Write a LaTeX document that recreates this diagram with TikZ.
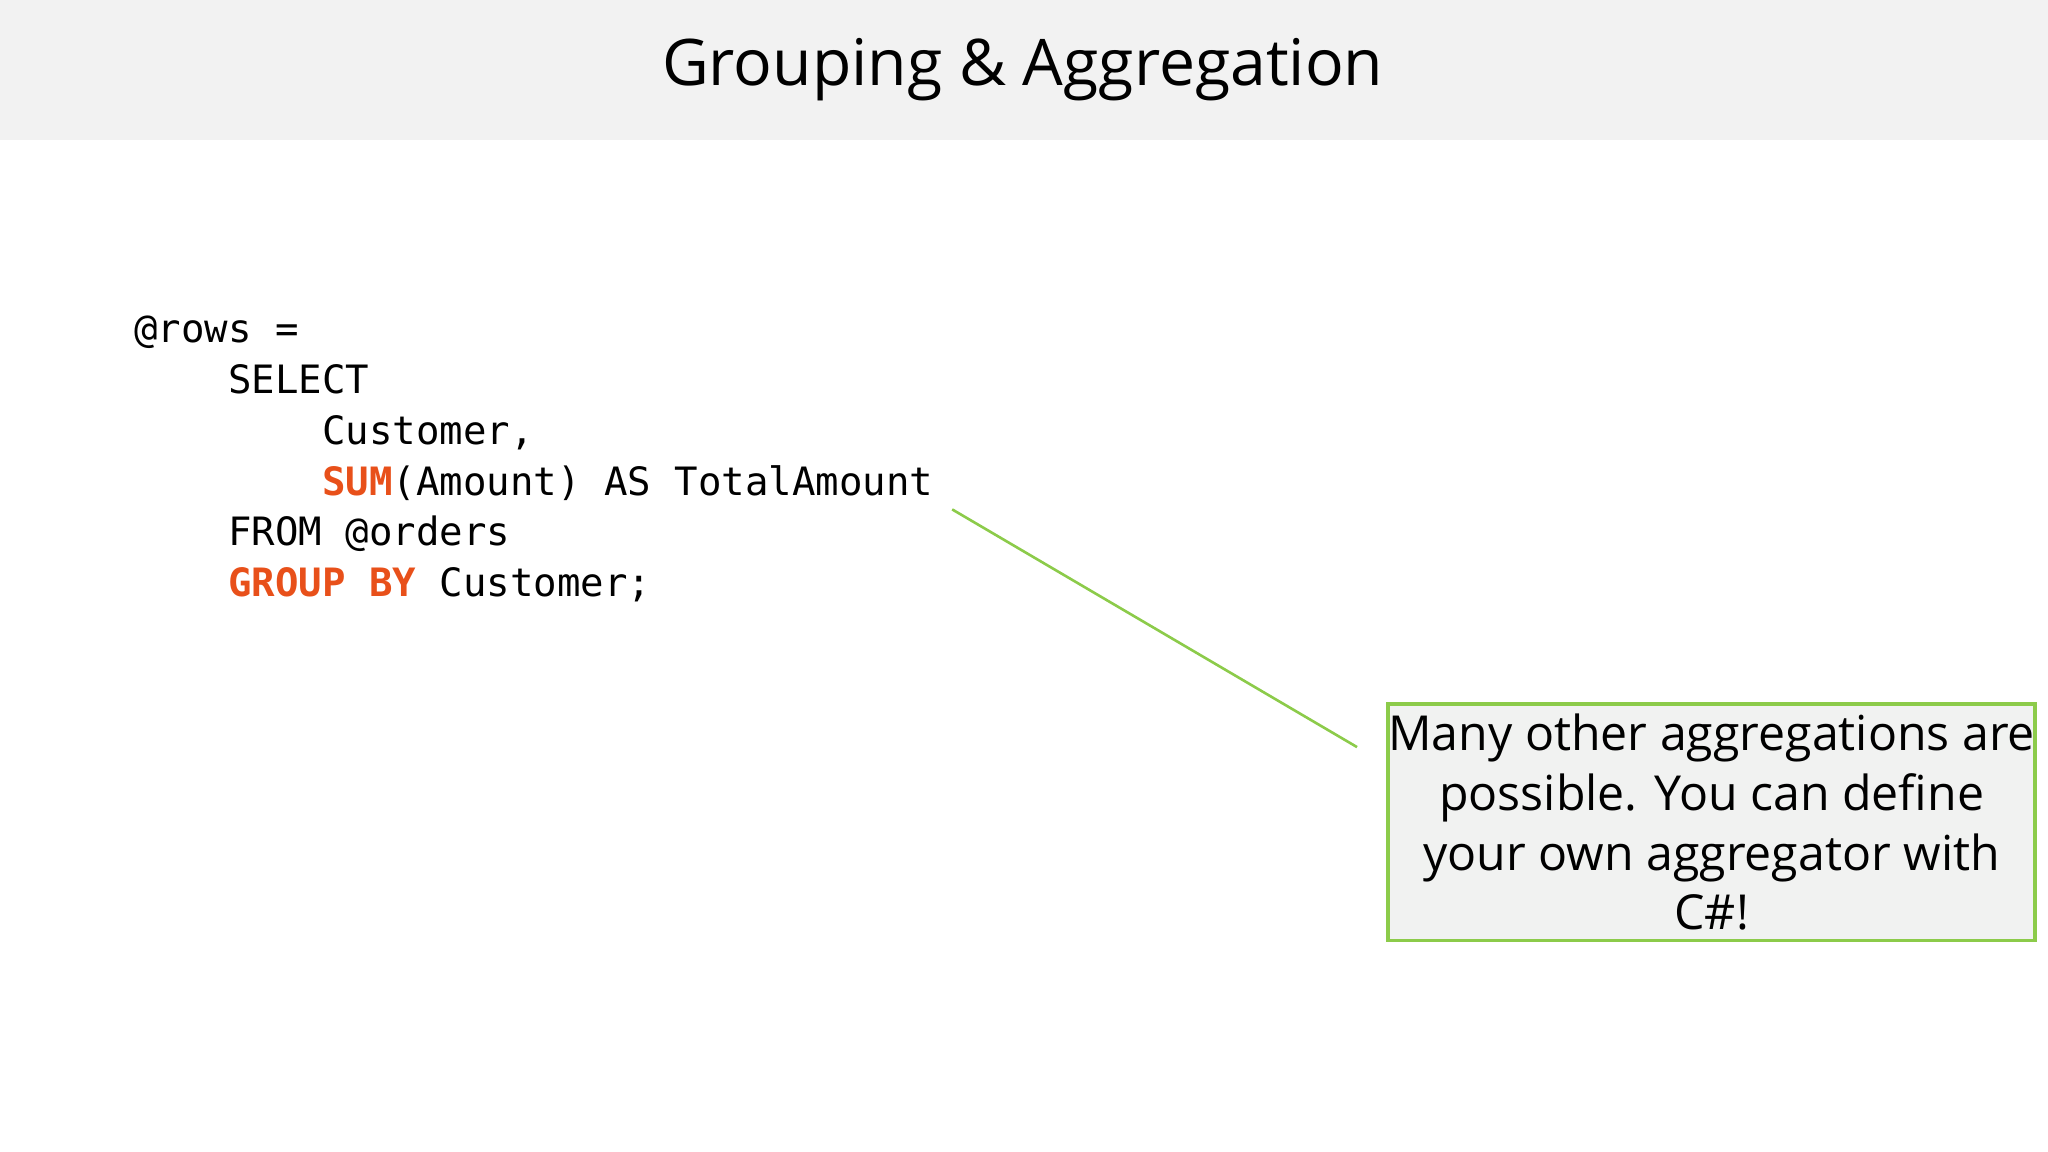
\documentclass[tikz,border=0pt]{standalone}
\usepackage{fontspec}
\setmainfont{Open Sans}
\setmonofont{DejaVu Sans Mono}
\definecolor{band}{HTML}{F2F2F2}
\definecolor{kw}{HTML}{E8501A}
\definecolor{grn}{HTML}{8CCB4A}
\definecolor{boxfill}{HTML}{F1F2F1}
\tikzset{
  codeline/.style={anchor=base west,inner sep=0,font=\fontsize{8.5pt}{10pt}\ttfamily},
  callout/.style={draw=grn,line width=0.03cm,fill=boxfill,minimum width=4.67cm,minimum height=1.81cm,align=center,inner sep=0,font=\fontsize{10.5pt}{13pt}\selectfont},
  conn/.style={draw=grn,line width=0.02cm}
}
\begin{document}
\begin{tikzpicture}[x=0.01cm,y=-0.01cm]
\useasboundingbox (0,0) rectangle (1568,882);
\fill[band] (0,0) rectangle (1568,107);
\node[font=\fontsize{14pt}{16pt}\selectfont] (title) at (783,53) {Grouping \& Aggregation};
\node[codeline] (l1) at (102,262) {@rows =};
\node[codeline] (l2) at (174,301) {SELECT};
\node[codeline] (l3) at (246,340) {Customer,};
\node[codeline] (l4) at (246,379) {\textcolor{kw}{\bfseries SUM}(Amount) AS TotalAmount};
\node[codeline] (l5) at (174,418) {FROM @orders};
\node[codeline] (l6) at (174,457) {\textcolor{kw}{\bfseries GROUP BY} Customer;};
\node[callout] (box) at (1310.5,629.5) {Many other aggregations are\\possible. You can define\\your own aggregator with\\C\#!};
\coordinate (a) at (729,390);
\coordinate (b) at (1039,572);
\draw[conn] (a) -- (b);
\end{tikzpicture}
\end{document}
